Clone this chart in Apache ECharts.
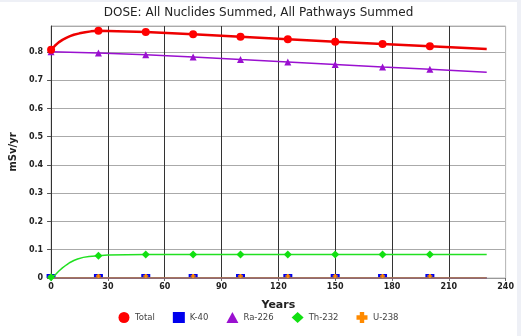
<!DOCTYPE html>
<html><head><meta charset="utf-8">
<script src="https://cdn.jsdelivr.net/npm/echarts@6/dist/echarts.min.js"></script>
<style>
html,body{margin:0;padding:0;background:#eef0f6;}
#c{position:absolute;left:0;top:2px;width:517px;height:334px;background:#fff;}
</style></head><body><div id="c"></div>
<script>
const title = 'DOSE: All Nuclides Summed, All Pathways Summed';
const xTicks = [0, 30, 60, 90, 120, 150, 180, 210, 240];
const markerYears = [0, 25, 50, 75, 100, 125, 150, 175, 200];

const totalYears = [0, 2, 4, 6, 8, 10, 12, 15, 18, 21, 25, 50, 75, 100, 125, 150, 175, 200, 230];
const totalVals  = [0.808, 0.822, 0.834, 0.843, 0.850, 0.856, 0.861, 0.866, 0.870, 0.873, 0.875, 0.871, 0.863, 0.854, 0.845, 0.836, 0.828, 0.820, 0.811];

const raYears = [0, 25, 50, 75, 100, 125, 150, 175, 200, 230];
const raVals  = [0.801, 0.796, 0.790, 0.782, 0.773, 0.765, 0.756, 0.747, 0.739, 0.728];

const thYears = [0, 2, 4, 6, 8, 10, 12, 14, 17, 20, 25, 30, 40, 50, 75, 100, 125, 150, 175, 200, 230];
const thVals  = [0.003, 0.010, 0.024, 0.036, 0.046, 0.055, 0.062, 0.067, 0.073, 0.076, 0.079, 0.081, 0.0825, 0.083, 0.083, 0.083, 0.083, 0.083, 0.083, 0.083, 0.083];

const k40Years = [0, 25, 50, 75, 100, 125, 150, 175, 200, 230];
const k40Vals  = [0, 0, 0, 0, 0, 0, 0, 0, 0, 0];

const u238Years = [0, 25, 50, 75, 100, 125, 150, 175, 200, 230];
const u238Vals  = [0, 0, 0, 0, 0, 0, 0, 0, 0, 0];

function pairs(xs, ys){ return xs.map((x,i)=>[x, ys[i]]); }
function mSize(s){ return function(v){ return markerYears.indexOf(v[0]) >= 0 ? s : 0; }; }

const crossPath = 'path://M3,0h4v3h3v4h-3v3h-4v-3h-3v-4h3z';
const font = 'DejaVu Sans, Verdana, sans-serif';

const chart = echarts.init(document.getElementById('c'), null, {renderer:'canvas'});
chart.setOption({
  animation:false,
  backgroundColor:'#fff',
  title:{text:title, left:'center', top:0, textStyle:{fontFamily:font, fontSize:12, fontWeight:'normal', color:'#222'}},
  grid:{left:48, right:8, top:24, bottom:58, show:true, borderColor:'#bbb', borderWidth:1},
  legend:{
    bottom:8, left:'center', itemWidth:12, itemHeight:11, itemGap:18,
    textStyle:{fontFamily:font, fontSize:8.5, color:'#444'},
    data:[
      {name:'Total', icon:'circle'},
      {name:'K-40', icon:'rect'},
      {name:'Ra-226', icon:'triangle'},
      {name:'Th-232', icon:'diamond'},
      {name:'U-238', icon:crossPath}
    ]
  },
  xAxis:{
    type:'value', min:0, max:240, interval:30,
    name:'Years', nameLocation:'middle', nameGap:22,
    nameTextStyle:{fontFamily:font, fontSize:11, fontWeight:'bold', color:'#222'},
    axisLine:{show:true, onZero:false, lineStyle:{color:'#999', width:1}},
    axisTick:{show:true, length:3, lineStyle:{color:'#666'}},
    axisLabel:{fontFamily:font, fontSize:8, fontWeight:'bold', color:'#222', margin:5},
    splitLine:{show:true, lineStyle:{color:['#333','#333','#333','#333','#333','#333','#333','#333','#bbb'], width:1}}
  },
  yAxis:{
    type:'value', min:0, max:0.892, interval:0.1,
    name:'mSv/yr', nameLocation:'middle', nameGap:32, nameRotate:90,
    nameTextStyle:{fontFamily:font, fontSize:10, fontWeight:'bold', color:'#222'},
    axisLine:{show:true, lineStyle:{color:'#333', width:1}},
    axisTick:{show:true, length:4, lineStyle:{color:'#555'}},
    axisLabel:{fontFamily:font, fontSize:8, fontWeight:'bold', color:'#222', margin:8, showMaxLabel:false,
      formatter:function(v){ return Math.abs(v*10 - Math.round(v*10))<1e-6 ? (v===0?'0':v.toFixed(1)) : ''; }},
    splitLine:{show:true, lineStyle:{color:'#aaa', width:1}}
  },
  series:[
    {name:'K-40', type:'line', data:pairs(k40Years,k40Vals), color:'#0000ee',
      lineStyle:{width:1.5, color:'#0000ee'}, symbol:'rect', symbolSize:function(v){return markerYears.indexOf(v[0])>=0?[9,4]:0;},
      symbolOffset:[0,-2], showAllSymbol:true, itemStyle:{color:'#0000ee'}, z:3},
    {name:'U-238', type:'line', data:pairs(u238Years,u238Vals), color:'#ff8a00',
      lineStyle:{width:1.5, color:'#cc8a33'}, symbol:crossPath, symbolSize:function(v){return markerYears.indexOf(v[0])>=0?[5,4]:0;},
      symbolOffset:[0,-2], showAllSymbol:true, itemStyle:{color:'#ff8a00'}, z:4},
    {name:'Th-232', type:'line', data:pairs(thYears,thVals), color:'#00e000',
      lineStyle:{width:1.5, color:'#22e022'}, symbol:'diamond', symbolSize:mSize(8),
      showAllSymbol:true, itemStyle:{color:'#11e011'}, z:5},
    {name:'Ra-226', type:'line', data:pairs(raYears,raVals), color:'#9a00cc',
      lineStyle:{width:1.5, color:'#9a10d0'}, symbol:'triangle', symbolSize:mSize(7),
      showAllSymbol:true, itemStyle:{color:'#9a10d0'}, z:5},
    {name:'Total', type:'line', data:pairs(totalYears,totalVals), color:'#ff0000',
      lineStyle:{width:2.5, color:'#ee0000'}, symbol:'circle', symbolSize:mSize(8),
      showAllSymbol:true, itemStyle:{color:'#ff0000'}, z:6}
  ]
});
</script></body></html>
